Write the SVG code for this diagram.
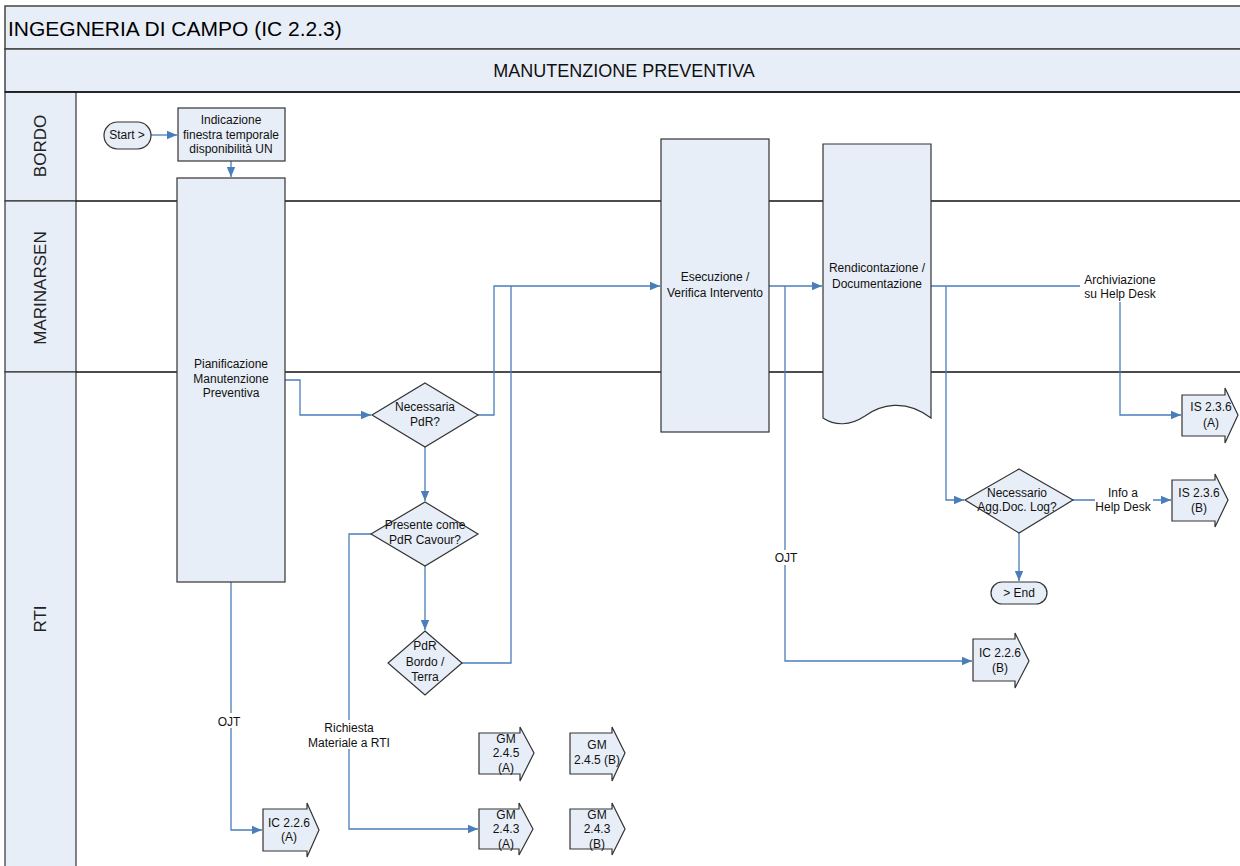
<svg xmlns="http://www.w3.org/2000/svg" width="1240" height="866" viewBox="0 0 1240 866">
<style>
.hdr{fill:#E8EEF7;stroke:#444;stroke-width:1.5}
.lane{fill:#E8EEF7;stroke:#333;stroke-width:1.2}
.sep{stroke:#111;stroke-width:1.5;fill:none}
.nd{fill:#E8EEF7;stroke:#333;stroke-width:1.2}
.t{font-family:"Liberation Sans",Arial,sans-serif;font-size:12px;fill:#111;text-anchor:middle}
.ln{font-family:"Liberation Sans",Arial,sans-serif;font-size:17px;fill:#222;text-anchor:middle}
.c{fill:none;stroke:#4A7EBB;stroke-width:1.3}
.lb{fill:#fff}
</style>
<defs>
<marker id="ar" markerUnits="userSpaceOnUse" markerWidth="10" markerHeight="10" viewBox="0 0 10 10" refX="10" refY="5" orient="auto">
<path d="M0,0.8 L10,5 L0,9.2 Z" fill="#4A7EBB"/>
</marker>
</defs>
<rect width="1240" height="866" fill="#fff"/>
<g id="frame">
<rect class="hdr" x="5" y="6" width="1240" height="43"/>
<rect class="hdr" x="5" y="49" width="1240" height="43"/>
<text x="8" y="36" style="font-family:'Liberation Sans',Arial,sans-serif;font-size:21px;fill:#000">INGEGNERIA DI CAMPO (IC 2.2.3)</text>
<text x="624" y="77" style="font-family:'Liberation Sans',Arial,sans-serif;font-size:18px;fill:#111;text-anchor:middle">MANUTENZIONE PREVENTIVA</text>
<rect class="lane" x="5" y="92" width="71" height="109"/>
<rect class="lane" x="5" y="201" width="71" height="171"/>
<rect class="lane" x="5" y="372" width="71" height="500"/>
<line class="sep" x1="5" y1="92" x2="1240" y2="92"/>
<line class="sep" x1="76" y1="201" x2="1240" y2="201"/>
<line class="sep" x1="76" y1="372" x2="1240" y2="372"/>
<text class="ln" transform="translate(46,146) rotate(-90)">BORDO</text>
<text class="ln" transform="translate(46,288) rotate(-90)">MARINARSEN</text>
<text class="ln" transform="translate(46,619) rotate(-90)">RTI</text>
</g>
<g id="connectors">
<path class="c" d="M151,135 H177" marker-end="url(#ar)"/>
<path class="c" d="M231,161 V177" marker-end="url(#ar)"/>
<path class="c" d="M285,380 H300 V415 H371" marker-end="url(#ar)"/>
<path class="c" d="M478,415 H494 V286 H660" marker-end="url(#ar)"/>
<path class="c" d="M461,663 H511 V286"/>
<path class="c" d="M425,447 V501" marker-end="url(#ar)"/>
<path class="c" d="M425,566 V630" marker-end="url(#ar)"/>
<path class="c" d="M371,534 H349 V829 H478" marker-end="url(#ar)"/>
<path class="c" d="M231,582 V830 H262" marker-end="url(#ar)"/>
<path class="c" d="M769,286 H822" marker-end="url(#ar)"/>
<path class="c" d="M785,286 V661 H972" marker-end="url(#ar)"/>
<path class="c" d="M931,286 H1120 V415 H1181" marker-end="url(#ar)"/>
<path class="c" d="M946,286 V500 H964" marker-end="url(#ar)"/>
<path class="c" d="M1073,500 H1171" marker-end="url(#ar)"/>
<path class="c" d="M1019,533 V581" marker-end="url(#ar)"/>
<rect class="lb" x="216" y="713" width="27" height="15"/>
<text class="t" x="229" y="726">OJT</text>
<rect class="lb" x="305" y="720" width="88" height="29"/>
<text class="t" x="349" y="732">Richiesta</text>
<text class="t" x="349" y="747">Materiale a RTI</text>
<rect class="lb" x="773" y="550" width="26" height="15"/>
<text class="t" x="786" y="562">OJT</text>
<rect class="lb" x="1080" y="272" width="80" height="30"/>
<text class="t" x="1120" y="284">Archiviazione</text>
<text class="t" x="1120" y="298">su Help Desk</text>
<rect class="lb" x="1095" y="485" width="58" height="30"/>
<text class="t" x="1123" y="497">Info a</text>
<text class="t" x="1123" y="511">Help Desk</text>
</g>
<g id="start">
<rect class="nd" x="104" y="122" width="47" height="27" rx="13.5"/>
<text class="t" x="127" y="139">Start &gt;</text>
</g>
<g id="indicazione">
<rect class="nd" x="178" y="108" width="107" height="53"/>
<text class="t" x="231" y="124">Indicazione</text>
<text class="t" x="231" y="139">finestra temporale</text>
<text class="t" x="231" y="153">disponibilità UN</text>
</g>
<g id="pianificazione">
<rect class="nd" x="177" y="178" width="108" height="404"/>
<text class="t" x="231" y="368">Pianificazione</text>
<text class="t" x="231" y="383">Manutenzione</text>
<text class="t" x="231" y="397">Preventiva</text>
</g>
<g id="necessaria-pdr">
<path class="nd" d="M425,383 L478,415 L425,447 L372,415 Z"/>
<text class="t" x="425" y="411">Necessaria</text>
<text class="t" x="425" y="426">PdR?</text>
</g>
<g id="presente-pdr">
<path class="nd" d="M425,502 L478,534 L425,566 L371,534 Z"/>
<text class="t" x="425" y="529">Presente come</text>
<text class="t" x="425" y="544">PdR Cavour?</text>
</g>
<g id="pdr-bordo-terra">
<path class="nd" d="M425,631 L462,663 L425,695 L388,663 Z"/>
<text class="t" x="425" y="650">PdR</text>
<text class="t" x="425" y="666">Bordo /</text>
<text class="t" x="425" y="681">Terra</text>
</g>
<g id="esecuzione">
<rect class="nd" x="661" y="139" width="108" height="293"/>
<text class="t" x="715" y="281">Esecuzione /</text>
<text class="t" x="715" y="297">Verifica Intervento</text>
</g>
<g id="rendicontazione">
<path class="nd" d="M823,144 H931 V418 C905,398 880,405 865,416 C850,426 835,426 823,418 Z"/>
<text class="t" x="877" y="272">Rendicontazione /</text>
<text class="t" x="877" y="288">Documentazione</text>
</g>
<g id="necessario-agg">
<path class="nd" d="M1019,469 L1073,500 L1019,533 L965,500 Z"/>
<text class="t" x="1017" y="497">Necessario</text>
<text class="t" x="1017" y="511">Agg.Doc. Log?</text>
</g>
<g id="end">
<rect class="nd" x="991" y="582" width="56" height="22" rx="11"/>
<text class="t" x="1019" y="597">&gt; End</text>
</g>
<g id="is236a">
<path class="nd" d="M1182,395 H1225 V388 L1238,415 L1225,443 V436 H1182 Z"/>
<text class="t" x="1211" y="411">IS 2.3.6</text>
<text class="t" x="1211" y="427">(A)</text>
</g>
<g id="is236b">
<path class="nd" d="M1172,480 H1215 V474 L1228,500 L1215,527 V521 H1172 Z"/>
<text class="t" x="1199" y="497">IS 2.3.6</text>
<text class="t" x="1199" y="512">(B)</text>
</g>
<g id="ic226b">
<path class="nd" d="M973,639 H1015 V633 L1029,661 L1015,688 V681 H973 Z"/>
<text class="t" x="1000" y="657">IC 2.2.6</text>
<text class="t" x="1000" y="672">(B)</text>
</g>
<g id="ic226a">
<path class="nd" d="M263,809 H307 V803 L319,830 L307,857 V851 H263 Z"/>
<text class="t" x="289" y="827">IC 2.2.6</text>
<text class="t" x="289" y="841">(A)</text>
</g>
<g id="gm245a">
<path class="nd" d="M479,733 H520 V727 L534,753 L520,781 V774 H479 Z"/>
<text class="t" x="506" y="743">GM</text>
<text class="t" x="506" y="757">2.4.5</text>
<text class="t" x="506" y="772">(A)</text>
</g>
<g id="gm245b">
<path class="nd" d="M570,733 H612 V727 L625,753 L612,781 V774 H570 Z"/>
<text class="t" x="597" y="749">GM</text>
<text class="t" x="597" y="764">2.4.5 (B)</text>
</g>
<g id="gm243a">
<path class="nd" d="M479,809 H519 V803 L533,829 L519,855 V849 H479 Z"/>
<text class="t" x="506" y="819">GM</text>
<text class="t" x="506" y="833">2.4.3</text>
<text class="t" x="506" y="848">(A)</text>
</g>
<g id="gm243b">
<path class="nd" d="M570,809 H612 V803 L625,829 L612,855 V849 H570 Z"/>
<text class="t" x="597" y="819">GM</text>
<text class="t" x="597" y="833">2.4.3</text>
<text class="t" x="597" y="848">(B)</text>
</g>
</svg>
